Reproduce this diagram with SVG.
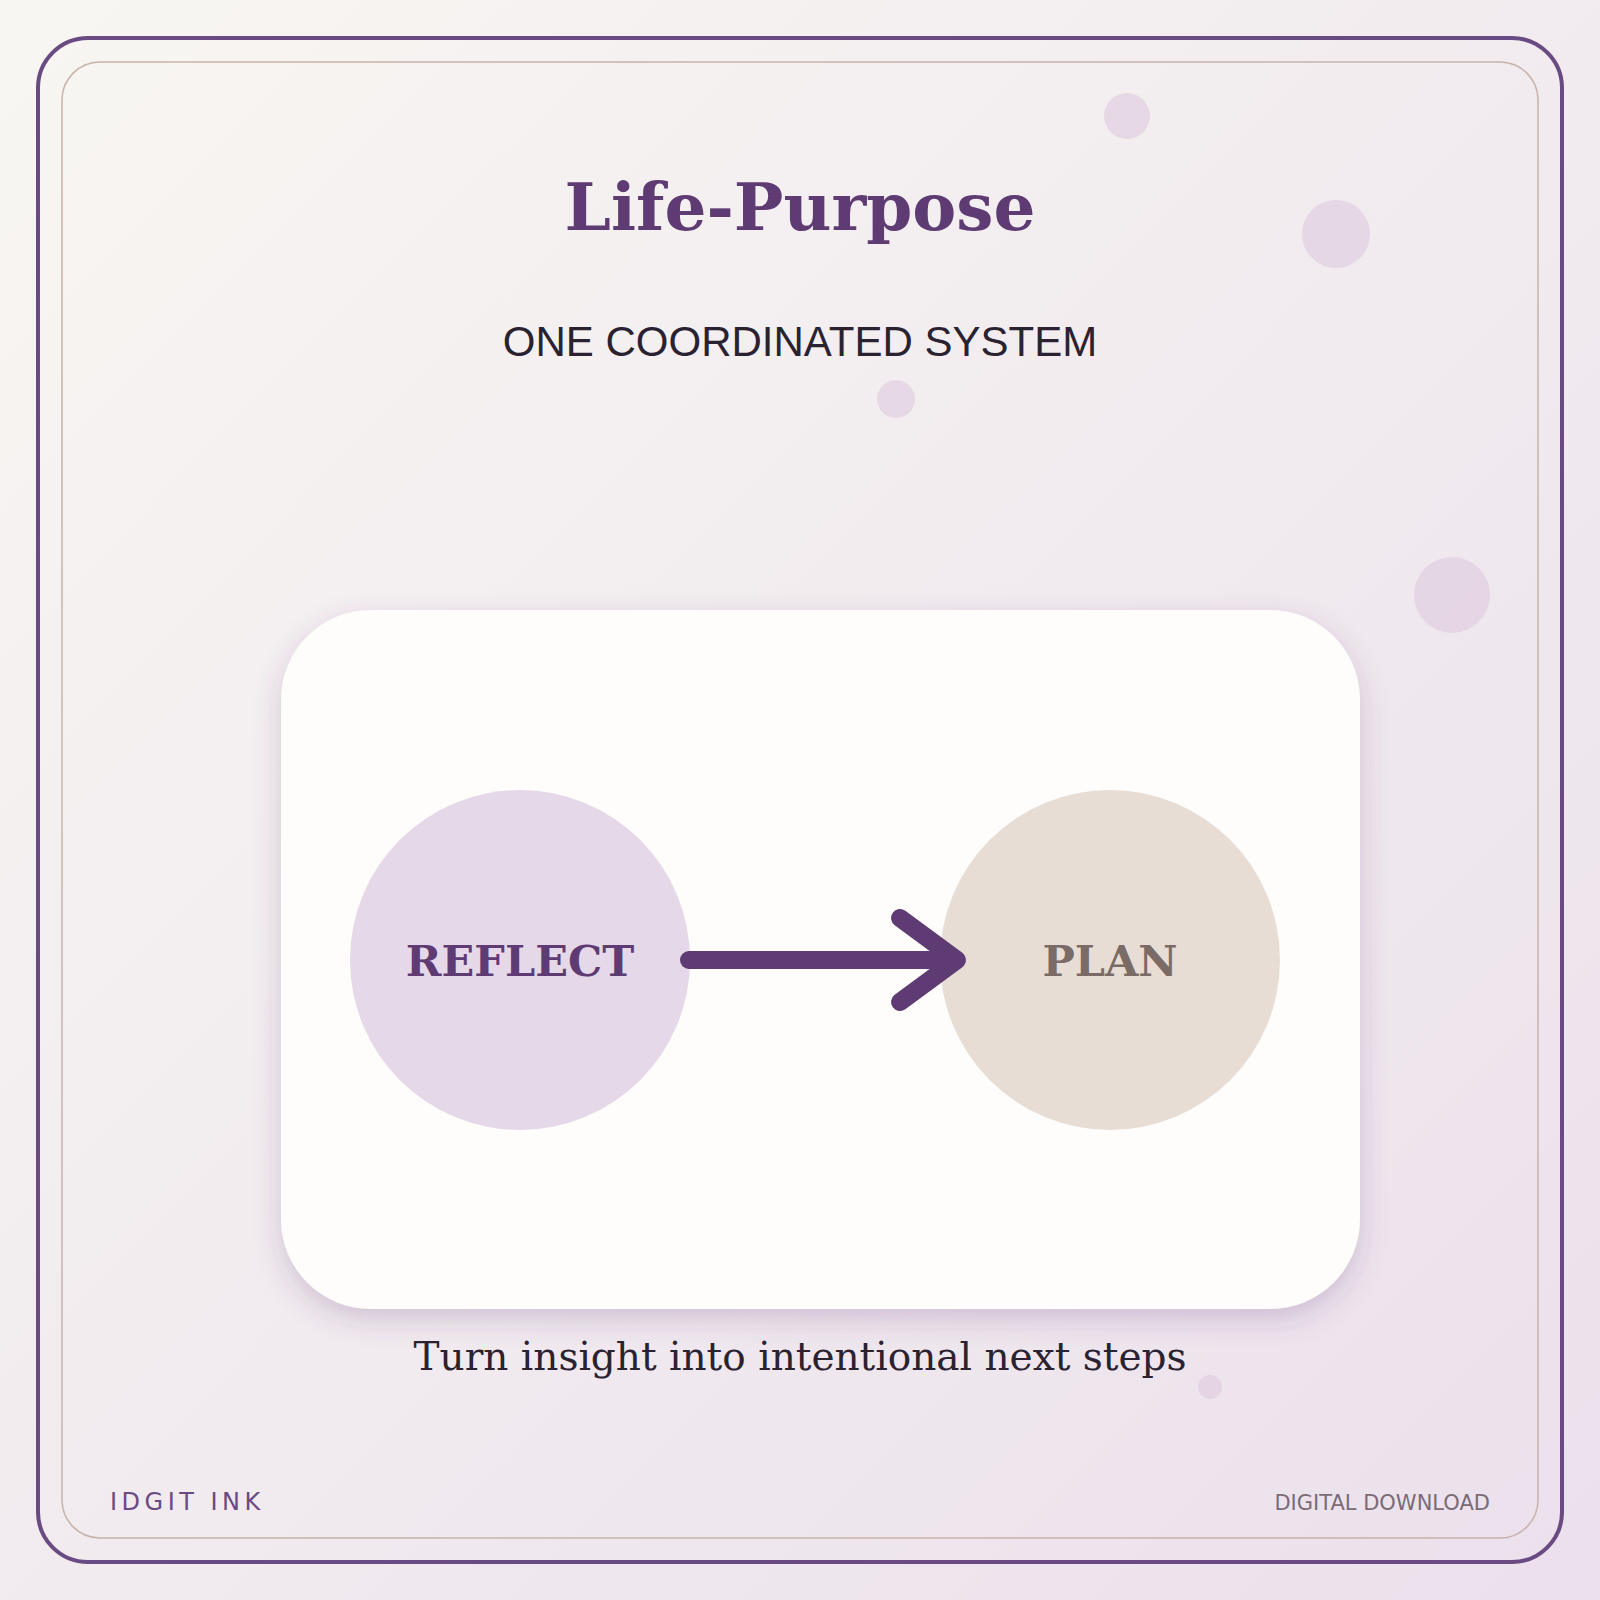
<svg xmlns="http://www.w3.org/2000/svg" width="1600" height="1600" viewBox="0 0 1600 1600">
<defs>
<linearGradient id="bg" x1="0" y1="0" x2="1" y2="1"><stop offset="0" stop-color="#f8f6f2"/><stop offset="1" stop-color="#ebe0ec"/></linearGradient>
<filter id="sh" x="-20%" y="-20%" width="140%" height="140%"><feDropShadow dx="0" dy="10" stdDeviation="14" flood-color="#5e3b73" flood-opacity="0.22"/></filter>
<style>
.dot{fill:#ddc9de;opacity:0.6}
.lbl{font-family:"DejaVu Serif","Liberation Serif",serif;font-weight:bold;font-size:43px;text-anchor:middle}
</style>
</defs>
<rect width="1600" height="1600" fill="url(#bg)"/>
<rect x="38" y="38" width="1524" height="1524" rx="50" fill="none" stroke="#6a4a82" stroke-width="4"/>
<rect x="62" y="62" width="1476" height="1476" rx="38" fill="none" stroke="#c7b3aa" stroke-width="1.5"/>
<circle class="dot" cx="1127" cy="116" r="23"/>
<circle class="dot" cx="1336" cy="234" r="34"/>
<circle class="dot" cx="896" cy="399" r="19"/>
<circle class="dot" cx="1452" cy="595" r="38"/>
<circle class="dot" cx="1210" cy="1387" r="12"/>
<text x="800" y="230" font-family="DejaVu Serif, serif" font-weight="bold" font-size="66" fill="#5e3b73" text-anchor="middle">Life-Purpose</text>
<text x="800" y="356" font-family="Liberation Sans, Arial, sans-serif" font-size="42" fill="#2a2230" text-anchor="middle">ONE COORDINATED SYSTEM</text>
<rect x="281" y="610" width="1079" height="699" rx="90" fill="#fefdfb" filter="url(#sh)"/>
<g id="reflect"><circle cx="520" cy="960" r="170" fill="#e5d8e9"/><text class="lbl" x="520" y="976" fill="#5e3b73">REFLECT</text></g>
<g id="plan"><circle cx="1110" cy="960" r="170" fill="#e8ddd5"/><text class="lbl" x="1110" y="976" fill="#7a6b66">PLAN</text></g>
<g id="connectors" fill="none" stroke="#5e3b73" stroke-width="18" stroke-linecap="round" stroke-linejoin="round">
<path d="M689 960 H955"/><path d="M900 918 L957 960 L900 1002"/>
</g>
<text x="800" y="1370" font-family="DejaVu Serif, serif" font-size="39" fill="#2a2230" text-anchor="middle">Turn insight into intentional next steps</text>
<text x="110" y="1510" font-family="DejaVu Sans, sans-serif" font-size="24" letter-spacing="4.5" fill="#6a4a82">IDGIT INK</text>
<text x="1490" y="1510" font-family="DejaVu Sans, sans-serif" font-size="21" fill="#7a6b76" text-anchor="end">DIGITAL DOWNLOAD</text>
</svg>
